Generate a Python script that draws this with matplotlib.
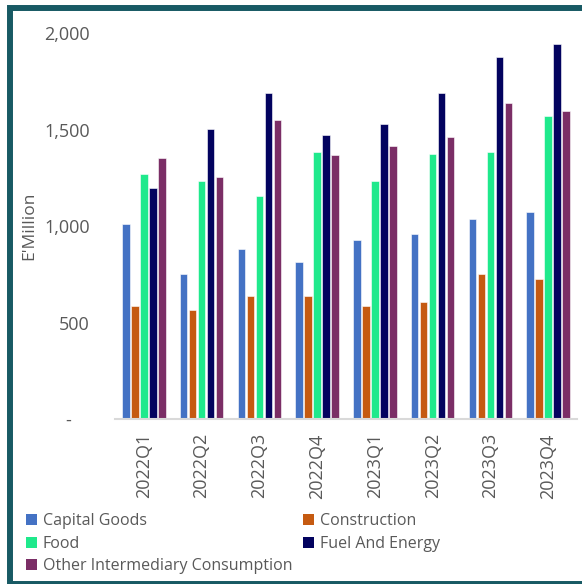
import matplotlib

matplotlib.use("Agg")
import matplotlib.pyplot as plt
from matplotlib.patches import Patch, Rectangle
from matplotlib.ticker import FuncFormatter
import numpy as np

plt.rcParams["font.family"] = ["Open Sans", "DejaVu Sans"]

quarters = ["2022Q1", "2022Q2", "2022Q3", "2022Q4", "2023Q1", "2023Q2", "2023Q3", "2023Q4"]
capital_goods = [1012, 755, 880, 814, 929, 962, 1038, 1073]
construction = [589, 566, 641, 637, 589, 609, 753, 727]
food = [1271, 1236, 1155, 1384, 1233, 1373, 1385, 1569]
fuel_energy = [1201, 1505, 1689, 1474, 1530, 1693, 1878, 1944]
other_consumption = [1354, 1253, 1550, 1370, 1415, 1462, 1641, 1597]

series = [
    ("Capital Goods", capital_goods, "#4472c4"),
    ("Construction", construction, "#c55a11"),
    ("Food", food, "#1fe98c"),
    ("Fuel And Energy", fuel_energy, "#03035f"),
    ("Other Intermediary Consumption", other_consumption, "#7b2e66"),
]

W, H = 582, 584
fig = plt.figure(figsize=(W / 100, H / 100), dpi=100)
ax = fig.add_axes([115 / W, 1 - 419.3 / H, (577 - 115) / W, (419.3 - 33.3) / H])

x = np.arange(len(quarters))
slot = 0.156
bar_w = 0.13
for i, (name, vals, color) in enumerate(series):
    offset = (i - 2) * slot
    ax.bar(x + offset, vals, width=bar_w, color=color, edgecolor="white",
           linewidth=0.4, label=name, zorder=2)

ax.set_xlim(-0.5, len(quarters) - 0.5)
ax.set_ylim(0, 2000)
ax.set_yticks([0, 500, 1000, 1500, 2000])
ax.yaxis.set_major_formatter(FuncFormatter(lambda v, _: "-    " if v == 0 else f"{int(v):,}"))
ax.set_xticks(x)
ax.set_xticklabels(quarters, rotation=90)

grey = "#595959"
ax.tick_params(axis="y", length=0, pad=18, labelsize=13, labelcolor=grey)
ax.tick_params(axis="x", length=0, pad=10, labelsize=13, labelcolor=grey)
for side in ("top", "right", "left"):
    ax.spines[side].set_visible(False)
ax.spines["bottom"].set_color("#d9d9d9")
ax.spines["bottom"].set_linewidth(1.5)

fig.text(29 / W, 1 - 226 / H, "E'Million", rotation=90, ha="center", va="center",
         fontsize=12.5, color=grey)

# legend laid out as two columns at the bottom
handles = [Patch(facecolor=c, edgecolor="none") for _, _, c in series]
labels = [n for n, _, _ in series]
leg_kw = dict(frameon=False, fontsize=11.5, handlelength=0.7, handleheight=0.7,
              handletextpad=0.35, labelspacing=0.42, borderpad=0, borderaxespad=0,
              loc="upper left", labelcolor=grey)
leg1 = fig.legend([handles[0], handles[2], handles[4]], [labels[0], labels[2], labels[4]],
                  bbox_to_anchor=(26 / W, 1 - 513 / H), **leg_kw)
leg2 = fig.legend([handles[1], handles[3]], [labels[1], labels[3]],
                  bbox_to_anchor=(303 / W, 1 - 513 / H), **leg_kw)

# outer frame
fig.patches.append(Rectangle((10 / W, 0), 1.1, 1 - 8 / H, transform=fig.transFigure,
                             fill=False, edgecolor="#185a64", linewidth=4.3, zorder=5))

fig.savefig("out.png", dpi=100)
